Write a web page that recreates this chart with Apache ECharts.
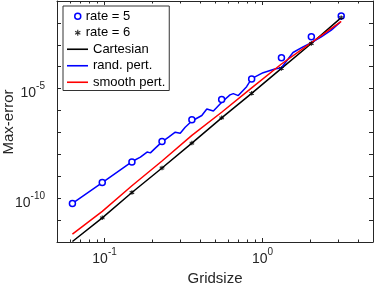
<!DOCTYPE html>
<html>
<head>
<meta charset="utf-8">
<script src="https://cdn.jsdelivr.net/npm/echarts@6/dist/echarts.min.js"></script>
<style>html,body{margin:0;padding:0;background:#fff}#c{width:374px;height:286px}</style>
</head>
<body>
<div id="c"></div>
<script>
// ---- data ----
const gridsize = [0.0626, 0.0967, 0.149, 0.231, 0.357, 0.551, 0.853, 1.317, 2.036, 3.147];
const rate5 = [5.74e-11, 5.18e-10, 4.47e-9, 3.9e-8, 3.78e-7, 3.16e-6, 2.76e-5, 2.56e-4, 2.31e-3, 2.08e-2];
const rate6 = [null, 1.27e-11, 1.82e-10, 2.38e-9, 3.26e-8, 4.66e-7, 6.11e-6, 8.38e-5, 1.15e-3, 1.74e-2];
const cartesian = [1.05e-12, 1.27e-11, 1.82e-10, 2.38e-9, 3.26e-8, 4.66e-7, 6.11e-6, 8.38e-5, 1.15e-3, 1.74e-2];
const smoothPert = [2.31e-12, 2.51e-11, 3.70e-10, 4.96e-9, 7.31e-8, 8.37e-7, 1.08e-5, 1.33e-4, 1.27e-3, 1.17e-2];
const randX = [0.0626, 0.0967, 0.1494, 0.1686, 0.1858, 0.1950, 0.2096, 0.2310, 0.2542, 0.2802, 0.3012, 0.3238,
  0.3569, 0.4126, 0.4437, 0.4884, 0.5514, 0.6222, 0.6528, 0.7019, 0.7929, 0.8525, 1.0088, 1.1953, 1.3171,
  1.4499, 1.5590, 1.8028, 2.036, 2.3536, 2.7220, 3.1014];
const randY = [5.74e-11, 5.18e-10, 4.71e-9, 7.53e-9, 1.27e-8, 1.17e-8, 1.93e-8, 3.70e-8, 6.11e-8, 1.03e-7, 9.2e-8, 1.74e-7,
  3.33e-7, 5.93e-7, 1.17e-6, 9.49e-7, 2.38e-6, 5.18e-6, 5.93e-6, 4.81e-6, 1.23e-5, 2.85e-5, 5.34e-5, 7.85e-5, 9.01e-5,
  2.24e-4, 4.47e-4, 8.11e-4, 1.27e-3, 2.31e-3, 4.66e-3, 1.09e-2];
const xRange = [0.05, 5];
const yRange = [1e-12, 1e-1];
const xLabelExps = [-1, 0];
const yLabelExps = [-5, -10];
const minorTicksX = [0.06, 0.07, 0.08, 0.09, 0.2, 0.3, 0.4, 0.5, 0.6, 0.7, 0.8, 0.9, 2, 3, 4];
const legendNames = ['rate = 5', 'rate = 6', 'Cartesian', 'rand. pert.', 'smooth pert.'];
const lineColors = ['#000000', '#0000ff', '#ff0000'];
const xTitle = 'Gridsize';
const yTitle = 'Max-error';

const FONT = '"Liberation Sans", Arial, Helvetica, sans-serif';
const AX = '#262626';
const zip = (xs, ys) => xs.map((x, i) => [x, ys[i]]);

const richLab = {
  b: {fontSize: 14, fontFamily: FONT, color: AX, lineHeight: 14, padding: [5, 0, 0, 0]},
  s: {fontSize: 10, fontFamily: FONT, color: AX, lineHeight: 10, padding: [0, 0, 9, 0]}
};
function powFmt(allowed) {
  return function (v) {
    const e = Math.round(Math.log10(v));
    if (Math.abs(Math.log10(v) - e) > 1e-6 || allowed.indexOf(e) < 0) return '';
    return '{b|10}{s|' + e + '}';
  };
}
const asterisk = 'path://M0,-1L0,1M-0.87,-0.5L0.87,0.5M-0.87,0.5L0.87,-0.5';

function baseX(pos, show) {
  return {
    type: 'log', logBase: 10, min: xRange[0], max: xRange[1], position: pos,
    splitNumber: 2,
    axisLine: {show: true, lineStyle: {color: AX, width: 1}},
    axisTick: {show: true, inside: true, length: 4, lineStyle: {color: AX}},
    splitLine: {show: false},
    axisLabel: {show: show, margin: 8, formatter: powFmt(xLabelExps), rich: richLab}
  };
}
function baseY(pos, show) {
  return {
    type: 'log', logBase: 10, min: yRange[0], max: yRange[1], position: pos,
    interval: 1, splitNumber: 11,
    axisLine: {show: true, lineStyle: {color: AX, width: 1}},
    axisTick: {show: true, inside: true, length: 4, lineStyle: {color: AX}},
    splitLine: {show: false},
    axisLabel: {show: show, margin: 12, padding: [5, 0, 0, 0], formatter: powFmt(yLabelExps), rich: richLab}
  };
}

const chart = echarts.init(document.getElementById('c'), null, {renderer: 'canvas'});
const xb = baseX('bottom', true);
xb.name = xTitle; xb.nameLocation = 'middle'; xb.nameGap = 27;
xb.nameTextStyle = {fontSize: 15, fontFamily: FONT, color: AX};

chart.setOption({
  animation: false,
  backgroundColor: '#fff',
  grid: {left: 57, right: 1, top: 1, bottom: 44, containLabel: false, outerBoundsMode: 'none'},
  xAxis: [xb, baseX('top', false)],
  yAxis: [baseY('left', true), baseY('right', false)],
  graphic: [{
    type: 'text', x: 9, y: 122, rotation: Math.PI / 2, z: 10,
    style: {text: yTitle, fontSize: 15, fontFamily: FONT, fill: AX, align: 'center', verticalAlign: 'middle'}
  }],
  legend: [
    {
      data: [
        {name: legendNames[0], icon: 'circle', itemStyle: {color: '#fff', borderColor: '#0000ff', borderWidth: 1.5}},
        {name: legendNames[1], icon: asterisk, itemStyle: {color: '#000', borderColor: '#000', borderWidth: 1.2}}
      ],
      orient: 'vertical', left: 74, top: 8, padding: 0, itemGap: 0,
      itemWidth: 6, itemHeight: 6, itemTextGap: 10.7, z: 6,
      textStyle: {fontSize: 13, fontFamily: FONT, color: '#000', lineHeight: 16.5},
      selectedMode: false
    },
    {
      data: legendNames.slice(2).map((n, i) => ({name: n, icon: 'rect', itemStyle: {color: lineColors[i], borderWidth: 0}})),
      orient: 'vertical', left: 63, top: 6, itemGap: 0,
      padding: [2 + 2 * 16.5, 4, 0, 4],
      itemWidth: 21, itemHeight: 1.6, itemTextGap: 3, z: 5, symbolKeepAspect: false,
      backgroundColor: '#fff', borderColor: '#333', borderWidth: 1,
      textStyle: {fontSize: 13, fontFamily: FONT, color: '#000', lineHeight: 16.5},
      selectedMode: false
    }
  ],
  series: [
    {
      name: 'Cartesian', type: 'line', data: zip(gridsize, cartesian), symbol: 'none',
      lineStyle: {color: lineColors[0], width: 1.5}, itemStyle: {color: lineColors[0]}, z: 2
    },
    {
      name: 'rand. pert.', type: 'line', data: zip(randX, randY), symbol: 'none',
      lineStyle: {color: lineColors[1], width: 1.5}, itemStyle: {color: lineColors[1]}, z: 3
    },
    {
      name: 'smooth pert.', type: 'line', data: zip(gridsize, smoothPert), symbol: 'none',
      lineStyle: {color: lineColors[2], width: 1.5}, itemStyle: {color: lineColors[2]}, z: 4
    },
    {
      name: 'rate = 5', type: 'scatter', data: zip(gridsize, rate5), symbol: 'circle', symbolSize: 6,
      itemStyle: {color: '#fff', borderColor: '#0000ff', borderWidth: 1.5, opacity: 1}, z: 5
    },
    {
      name: 'rate = 6', type: 'scatter', data: zip(gridsize, rate6).filter(d => d[1] != null), symbol: asterisk, symbolSize: 4.5,
      itemStyle: {color: '#000', borderColor: '#000', borderWidth: 1.2}, z: 6
    },
    {
      type: 'custom', silent: true, z: 7, clip: false,
      data: minorTicksX.map(v => [v, yRange[0]]),
      encode: {x: 0, y: 1},
      renderItem: function (params, api) {
        const v = api.value(0);
        const b = api.coord([v, yRange[0]]);
        const t = api.coord([v, yRange[1]]);
        const x = Math.round(b[0]) + 0.5;
        return {type: 'group', children: [
          {type: 'line', shape: {x1: x, y1: b[1], x2: x, y2: b[1] - 2.5}, style: {stroke: AX, lineWidth: 1}},
          {type: 'line', shape: {x1: x, y1: t[1], x2: x, y2: t[1] + 2.5}, style: {stroke: AX, lineWidth: 1}}
        ]};
      }
    }
  ]
});
</script>
</body>
</html>
